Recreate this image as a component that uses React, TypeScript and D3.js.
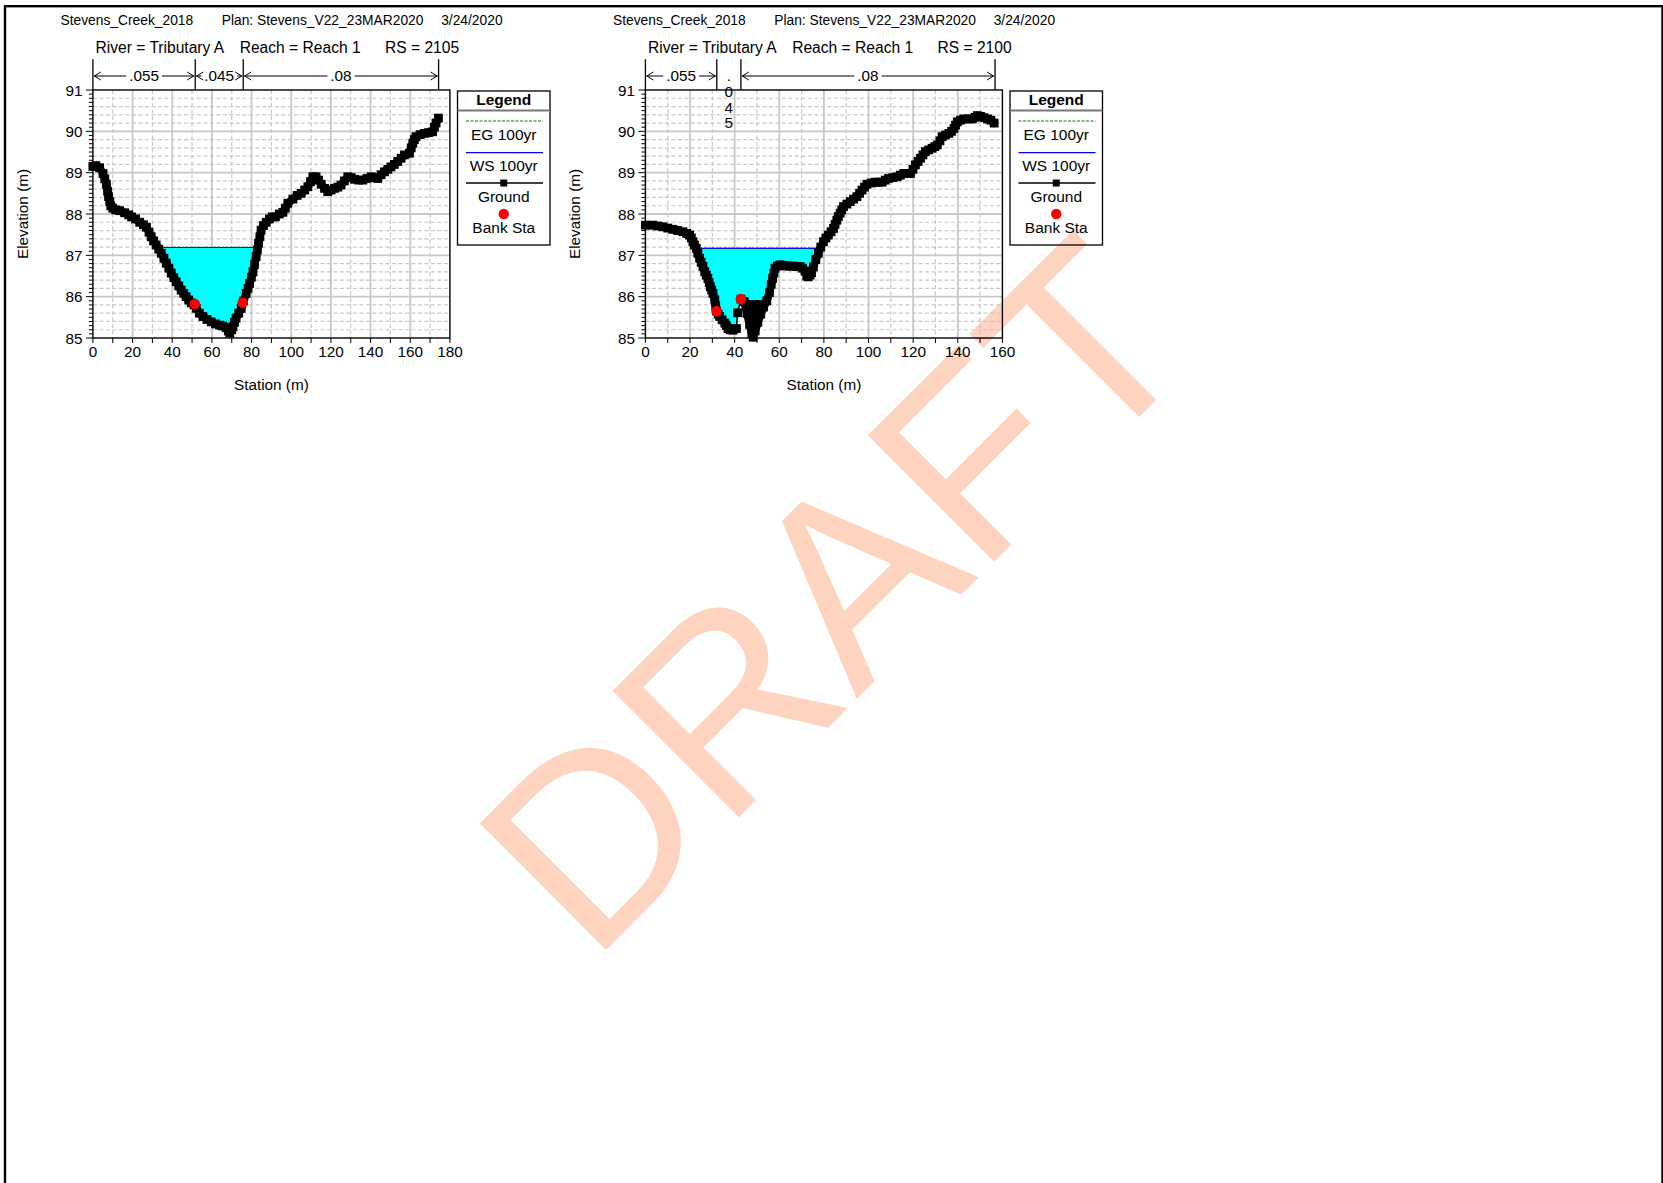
import React from 'react';
import * as d3 from 'd3';

type Pt = [number, number];

// ---------- data ----------
const projectName = 'Stevens_Creek_2018';
const planName = 'Plan: Stevens_V22_23MAR2020';
const runDate = '3/24/2020';
const riverLabel = 'River = Tributary A';
const reachLabel = 'Reach = Reach 1';
const rsLabels = ['RS = 2105', 'RS = 2100'];

const elevTicks = [85, 86, 87, 88, 89, 90, 91];
const stationTicks2105 = [0, 20, 40, 60, 80, 100, 120, 140, 160, 180];
const stationTicks2100 = [0, 20, 40, 60, 80, 100, 120, 140, 160];

const ground2105: Pt[] = [
  [0, 89.15], [1.5, 89.17], [3.4, 89.12], [5.1, 88.98], [6.0, 88.85], [6.8, 88.72], [7.4, 88.55],
  [7.9, 88.42], [8.5, 88.3], [9.0, 88.2], [10, 88.14], [11.5, 88.1], [13.5, 88.08], [16, 88.03],
  [18, 87.98], [19.5, 87.93], [21.5, 87.88], [23.6, 87.8], [25.5, 87.74], [27, 87.68], [28.3, 87.56],
  [29.4, 87.45], [30.6, 87.35], [31.9, 87.25], [33.2, 87.15], [34.5, 87.05], [35.8, 86.93], [37, 86.81],
  [38.3, 86.69], [39.5, 86.57], [40.8, 86.46], [42, 86.36], [43.3, 86.26], [44.5, 86.16], [45.8, 86.08],
  [47, 86.0], [48.3, 85.92], [49.6, 85.85], [51, 85.8], [52.1, 85.72], [53.7, 85.6], [55.5, 85.52],
  [57.5, 85.45], [59.7, 85.39], [61.8, 85.34], [63.9, 85.31], [65.5, 85.29], [67.2, 85.25], [68.3, 85.17],
  [69, 85.12], [70, 85.2], [70.6, 85.27], [71.4, 85.38], [72.2, 85.48], [73.5, 85.6], [74.8, 85.72],
  [76, 85.9], [77.3, 86.08], [78.2, 86.2], [79, 86.32], [79.9, 86.47], [80.7, 86.6], [81.5, 86.78],
  [82.3, 86.97], [82.9, 87.13], [83.5, 87.29], [84.2, 87.45], [84.8, 87.61], [86, 87.72], [87.4, 87.8],
  [89, 87.88], [90.5, 87.93], [92, 87.93], [94, 88.0], [95.8, 88.04], [97, 88.14], [98.3, 88.26],
  [100.8, 88.36], [103, 88.45], [105, 88.5], [106.8, 88.58], [108.4, 88.66], [109.7, 88.78], [110.9, 88.9],
  [112.5, 88.9], [113.8, 88.82], [115.1, 88.72], [116.8, 88.62], [118.4, 88.54], [120.1, 88.58],
  [121.8, 88.62], [123.5, 88.65], [125.1, 88.7], [126.8, 88.8], [128.5, 88.9], [130.2, 88.88],
  [131.9, 88.84], [134, 88.82], [136.1, 88.82], [138.2, 88.86], [140.3, 88.9], [142, 88.88],
  [143.6, 88.86], [145.3, 88.95], [147, 89.02], [148.7, 89.08], [150.3, 89.14], [152, 89.2],
  [153.7, 89.27], [155.4, 89.35], [157.1, 89.43], [159.6, 89.47], [160.5, 89.6], [161.3, 89.71],
  [162.1, 89.8], [162.9, 89.87], [165, 89.92], [167.2, 89.95], [169.3, 89.97], [171.3, 89.99],
  [172.2, 90.1], [173, 90.2], [174.2, 90.32],
];

const ground2100: Pt[] = [
  [0, 87.73], [3.3, 87.73], [5.5, 87.71], [7.8, 87.69], [10, 87.66], [12.3, 87.63], [14.5, 87.6],
  [16.8, 87.57], [18.5, 87.53], [19.8, 87.49], [20.6, 87.42], [21.3, 87.33], [22, 87.25], [22.8, 87.17],
  [23.5, 87.05], [24.3, 86.93], [25, 86.83], [25.8, 86.73], [26.6, 86.6], [27.3, 86.52], [28, 86.44],
  [28.6, 86.34], [29.1, 86.24], [29.7, 86.16], [30.3, 86.08], [31.1, 85.92], [31.5, 85.78], [31.9, 85.65],
  [32.6, 85.58], [33.3, 85.52], [34.4, 85.44], [35.6, 85.36], [36.3, 85.3], [37, 85.23], [38, 85.2],
  [39.3, 85.19], [40.8, 85.23], [41.3, 85.61], [42.8, 85.94], [44.3, 85.88], [45.5, 85.6], [46.7, 85.33],
  [47.7, 85.1], [48.3, 85.02], [49.2, 85.17], [50.4, 85.38], [51.7, 85.58], [53, 85.75], [54.4, 85.9],
  [55.6, 86.1], [56.4, 86.3], [57, 86.44], [57.6, 86.57], [58.1, 86.69], [59.2, 86.74], [60.3, 86.77],
  [61.8, 86.76], [63.3, 86.74], [64.8, 86.74], [66.3, 86.74], [67.8, 86.73], [69.3, 86.73], [70.4, 86.69],
  [71.5, 86.62], [72.3, 86.5], [73, 86.48], [73.8, 86.52], [74.5, 86.58], [75.3, 86.72], [76.4, 86.9],
  [77.5, 87.05], [78.6, 87.2], [79.8, 87.33], [80.9, 87.42], [82, 87.49], [83.2, 87.57], [84.3, 87.65],
  [85, 87.75], [85.8, 87.85], [86.5, 87.94], [87.3, 88.02], [88, 88.1], [88.8, 88.18], [90.3, 88.24],
  [91.8, 88.3], [93.3, 88.36], [94.8, 88.42], [96, 88.5], [97.1, 88.58], [98.2, 88.65], [99.3, 88.72],
  [101.2, 88.75], [103, 88.77], [104.5, 88.77], [106.1, 88.77], [107.5, 88.82], [109, 88.86],
  [110.9, 88.88], [112.8, 88.9], [114.3, 88.94], [115.8, 88.98], [117.3, 88.98], [118.8, 88.98],
  [119.9, 89.08], [121, 89.19], [122.2, 89.27], [123.3, 89.35], [124.4, 89.43], [125.5, 89.51],
  [127, 89.55], [128.5, 89.59], [129.7, 89.63], [130.8, 89.67], [132, 89.77], [133, 89.87],
  [134.5, 89.91], [136, 89.95], [137.2, 90.0], [138.3, 90.07], [139, 90.15], [139.8, 90.23],
  [141.2, 90.27], [142.7, 90.3], [144.6, 90.3], [146.5, 90.3], [147.7, 90.34], [148.8, 90.38],
  [150.3, 90.36], [151.8, 90.33], [153.3, 90.3], [154.8, 90.27], [156.3, 90.2],
];

const banks2105: Pt[] = [[51.4, 85.82], [75.5, 85.85]];
const banks2100: Pt[] = [[31.9, 85.65], [42.8, 85.94]];
const wsElev = [87.19, 87.17];
const egElev = [87.2, 87.18];
const nBreaks2105 = [0, 51.6, 75.8, 174.3];
const nBreaks2100 = [0, 32, 42.8, 156.7];
const nValues = ['.055', '.045', '.08'];
const obstruction2100: Pt[] = [[44.0, 85.92], [54.9, 85.92], [48.3, 85.05]];
const legendLabels = ['EG 100yr', 'WS 100yr', 'Ground', 'Bank Sta'];

// ---------- helpers ----------
const FONT = '"Liberation Sans", Arial, Helvetica, sans-serif';
const GRID = '#c8c8c8';

function textW(s: string, fs: number) {
  let w = 0;
  for (const c of s) w += c === '.' ? 0.278 : 0.556;
  return w * fs;
}

function waterPolygon(ground: Pt[], ws: number): Pt[] {
  let iMin = 0;
  ground.forEach((p, i) => { if (p[1] < ground[iMin][1]) iMin = i; });
  let l = iMin;
  while (l > 0 && ground[l - 1][1] < ws) l--;
  let r = iMin;
  while (r < ground.length - 1 && ground[r + 1][1] < ws) r++;
  const inter = (a: Pt, b: Pt): Pt => {
    const t = (ws - a[1]) / (b[1] - a[1]);
    return [a[0] + t * (b[0] - a[0]), ws];
  };
  const pts: Pt[] = [];
  if (l > 0) pts.push(inter(ground[l - 1], ground[l]));
  for (let i = l; i <= r; i++) pts.push(ground[i]);
  if (r < ground.length - 1) pts.push(inter(ground[r], ground[r + 1]));
  return pts;
}

interface CSProps {
  ox: number;
  rs: string;
  xMax: number;
  xTicks: number[];
  ground: Pt[];
  banks: Pt[];
  ws: number;
  eg: number;
  nBreaks: number[];
  obstruction?: Pt[];
}

function CrossSection({ ox, rs, xMax, xTicks, ground, banks, ws, eg, nBreaks, obstruction }: CSProps) {
  const plotL = ox + 92.9;
  const plotR = plotL + 357;
  const top = 90;
  const bottom = 338;
  const x = d3.scaleLinear().domain([0, xMax]).range([plotL, plotR]);
  const y = d3.scaleLinear().domain([85, 91]).range([bottom, top]);

  const vGrid = d3.range(10, xMax, 10);
  const hGrid = d3.range(1, 30).map((i) => 85 + i * 0.2);
  const yMinor = d3.range(0, 61).map((i) => 85 + i * 0.1);
  const xMinor = d3.range(0, xMax + 0.1, 10);

  const water = waterPolygon(ground, ws);
  const lineGen = d3.line<Pt>().x((d) => x(d[0])).y((d) => y(d[1]));
  const waterPath = lineGen(water) + 'Z';
  const groundPath = lineGen(ground) || '';

  // thick runs for closely spaced survey points
  const runs: Pt[][] = [];
  let cur: Pt[] = [];
  for (let i = 0; i < ground.length - 1; i++) {
    const a = ground[i], b = ground[i + 1];
    const d = Math.hypot(x(b[0]) - x(a[0]), y(b[1]) - y(a[1]));
    if (d <= 13) {
      if (cur.length === 0) cur.push(a);
      cur.push(b);
    } else {
      if (cur.length) runs.push(cur);
      cur = [];
    }
  }
  if (cur.length) runs.push(cur);

  const wl = x(water[0][0]);
  const wr = x(water[water.length - 1][0]);

  const fsTick = 15.3;
  const nY = 76;

  // n-value header
  const nEls: React.ReactNode[] = [];
  nBreaks.forEach((b, i) => {
    nEls.push(<line key={'nb' + i} x1={x(b)} x2={x(b)} y1={59.3} y2={top} stroke="#000" strokeWidth={1.3} />);
  });
  for (let i = 0; i < nBreaks.length - 1; i++) {
    const a = x(nBreaks[i]);
    const b = x(nBreaks[i + 1]);
    const label = nValues[i];
    const w = textW(label, fsTick);
    const mid = (a + b) / 2;
    if (b - a < w + 10) {
      const chars = label.split('');
      chars.forEach((c, j) => {
        nEls.push(
          <text key={`nv${i}-${j}`} x={mid} y={81 + j * 15.8} textAnchor="middle" fontSize={fsTick} fontFamily={FONT}>{c}</text>
        );
      });
    } else {
      const tl = mid - w / 2 - 3;
      const tr = mid + w / 2 + 3;
      nEls.push(<text key={'nt' + i} x={mid} y={81} textAnchor="middle" fontSize={fsTick} fontFamily={FONT}>{label}</text>);
      nEls.push(<line key={'nl' + i} x1={a + 1} x2={tl} y1={nY} y2={nY} stroke="#000" strokeWidth={1} />);
      nEls.push(<line key={'nr' + i} x1={tr} x2={b - 1} y1={nY} y2={nY} stroke="#000" strokeWidth={1} />);
      nEls.push(<path key={'nal' + i} d={`M${a + 8},${nY - 4}L${a + 1.5},${nY}L${a + 8},${nY + 4}`} fill="none" stroke="#000" strokeWidth={1} />);
      nEls.push(<path key={'nar' + i} d={`M${b - 8},${nY - 4}L${b - 1.5},${nY}L${b - 8},${nY + 4}`} fill="none" stroke="#000" strokeWidth={1} />);
    }
  }

  // legend
  const lx = ox + 457.5;
  const lw = 92.5;
  const lcx = lx + lw / 2;
  const fsLeg = 15.5;

  return (
    <g>
      {/* titles */}
      <text x={ox + 60.5} y={24.5} fontSize={13.8} fontFamily={FONT}>{projectName}</text>
      <text x={ox + 221.7} y={24.5} fontSize={13.8} fontFamily={FONT}>{planName}</text>
      <text x={ox + 441.2} y={24.5} fontSize={13.8} fontFamily={FONT}>{runDate}</text>
      <text x={ox + 95.5} y={52.5} fontSize={15.6} fontFamily={FONT}>{riverLabel}</text>
      <text x={ox + 239.7} y={52.5} fontSize={15.6} fontFamily={FONT}>{reachLabel}</text>
      <text x={ox + 385} y={52.5} fontSize={15.6} fontFamily={FONT}>{rs}</text>

      {/* grid */}
      {vGrid.map((v) => (
        <line key={'vg' + v} x1={x(v)} x2={x(v)} y1={top} y2={bottom} stroke={GRID}
          strokeWidth={v % 20 === 0 ? 1.8 : 1.2} strokeDasharray={v % 20 === 0 ? undefined : '4 2.5'} />
      ))}
      {hGrid.map((v, i) => {
        const major = Math.abs(v - Math.round(v)) < 1e-6;
        return (
          <line key={'hg' + i} x1={plotL} x2={plotR} y1={y(v)} y2={y(v)} stroke={GRID}
            strokeWidth={major ? 1.8 : 1.2} strokeDasharray={major ? undefined : '4 2.5'} />
        );
      })}

      {/* water */}
      <path d={waterPath} fill="#00ffff" stroke="none" />
      <line x1={wl} x2={wr} y1={y(ws)} y2={y(ws)} stroke="#0000ff" strokeWidth={1.2} />
      <line x1={wl} x2={wr} y1={y(eg)} y2={y(eg)} stroke="#008000" strokeWidth={1} strokeDasharray="2 2" />

      {obstruction && (
        <path d={(lineGen(obstruction) || '') + 'Z'} fill="#000" />
      )}

      {/* ground */}
      <path d={groundPath} fill="none" stroke="#000" strokeWidth={1.5} />
      {runs.map((r, i) => (
        <path key={'run' + i} d={lineGen(r) || ''} fill="none" stroke="#000" strokeWidth={8} strokeLinejoin="round" strokeLinecap="round" />
      ))}
      {ground.map((p, i) => (
        <rect key={'gm' + i} x={x(p[0]) - 4.4} y={y(p[1]) - 4.4} width={8.8} height={8.8} fill="#000" />
      ))}
      {banks.map((p, i) => (
        <circle key={'bk' + i} cx={x(p[0])} cy={y(p[1])} r={5.3} fill="#ff0000" />
      ))}

      {/* plot frame */}
      <rect x={plotL} y={top} width={plotR - plotL} height={bottom - top} fill="none" stroke="#000" strokeWidth={1.4} />

      {/* y ticks */}
      {yMinor.map((v, i) => {
        const major = i % 10 === 0;
        return <line key={'yt' + i} x1={plotL - (major ? 7 : 4)} x2={plotL} y1={y(v)} y2={y(v)} stroke="#000" strokeWidth={1} />;
      })}
      {elevTicks.map((v) => (
        <text key={'yl' + v} x={plotL - 10.5} y={y(v) + 5.5} textAnchor="end" fontSize={fsTick} fontFamily={FONT}>{v}</text>
      ))}
      {/* x ticks */}
      {xMinor.map((v) => (
        <line key={'xt' + v} x1={x(v)} x2={x(v)} y1={bottom} y2={bottom + 5} stroke="#000" strokeWidth={1} />
      ))}
      {xTicks.map((v) => (
        <text key={'xl' + v} x={x(v)} y={357} textAnchor="middle" fontSize={fsTick} fontFamily={FONT}>{v}</text>
      ))}

      {/* axis titles */}
      <text x={(plotL + plotR) / 2} y={389.5} textAnchor="middle" fontSize={fsTick} fontFamily={FONT}>Station (m)</text>
      <text transform={`translate(${ox + 27.5},${(top + bottom) / 2}) rotate(-90)`} textAnchor="middle" fontSize={fsTick} fontFamily={FONT}>Elevation (m)</text>

      {nEls}

      {/* legend */}
      <rect x={lx} y={91} width={lw} height={154} fill="none" stroke="#000" strokeWidth={1.3} />
      <text x={lcx} y={105} textAnchor="middle" fontSize={fsLeg} fontWeight="bold" fontFamily={FONT}>Legend</text>
      <line x1={lx} x2={lx + lw} y1={110.5} y2={110.5} stroke="#777" strokeWidth={2} />
      <line x1={lx + 8.5} x2={lx + lw - 7} y1={121} y2={121} stroke="#008000" strokeWidth={1.2} strokeDasharray="3 1.5" />
      <text x={lcx} y={140} textAnchor="middle" fontSize={fsLeg} fontFamily={FONT}>{legendLabels[0]}</text>
      <line x1={lx + 8.5} x2={lx + lw - 7} y1={152.7} y2={152.7} stroke="#0000ff" strokeWidth={1.3} />
      <text x={lcx} y={171} textAnchor="middle" fontSize={fsLeg} fontFamily={FONT}>{legendLabels[1]}</text>
      <line x1={lx + 8.5} x2={lx + lw - 7} y1={183} y2={183} stroke="#000" strokeWidth={1.3} />
      <rect x={lcx - 3.5} y={179.5} width={7} height={7} fill="#000" />
      <text x={lcx} y={201.5} textAnchor="middle" fontSize={fsLeg} fontFamily={FONT}>{legendLabels[2]}</text>
      <circle cx={lcx} cy={214} r={5.2} fill="#ff0000" />
      <text x={lcx} y={232.5} textAnchor="middle" fontSize={fsLeg} fontFamily={FONT}>{legendLabels[3]}</text>
    </g>
  );
}

export default function App() {
  return (
    <svg width={1663} height={1183} style={{ position: 'absolute', left: 0, top: 0, display: 'block', background: '#fff' }}
      xmlns="http://www.w3.org/2000/svg">
      <rect x={0} y={0} width={1663} height={1183} fill="#fff" />
      <text transform="translate(591,965) rotate(-45)" fontSize={260} fill="#fed3c0" fontFamily={FONT}>DRAFT</text>
      <rect x={5} y={6.2} width={1657.5} height={1200} fill="none" stroke="#000" strokeWidth={2.4} />
      <CrossSection ox={0} rs={rsLabels[0]} xMax={180} xTicks={stationTicks2105} ground={ground2105}
        banks={banks2105} ws={wsElev[0]} eg={egElev[0]} nBreaks={nBreaks2105} />
      <CrossSection ox={552.5} rs={rsLabels[1]} xMax={160} xTicks={stationTicks2100} ground={ground2100}
        banks={banks2100} ws={wsElev[1]} eg={egElev[1]} nBreaks={nBreaks2100} obstruction={obstruction2100} />
    </svg>
  );
}
